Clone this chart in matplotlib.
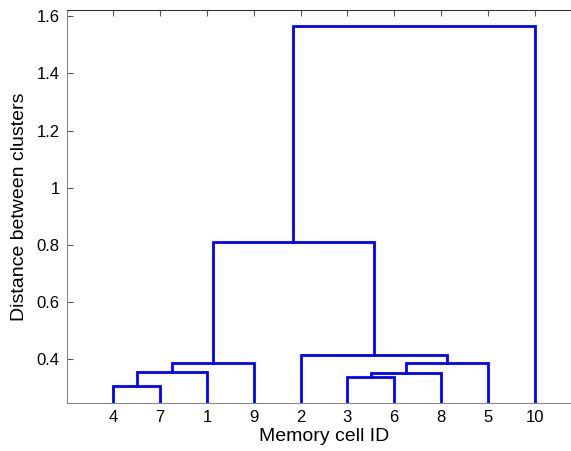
import matplotlib
matplotlib.use("Agg")
import matplotlib.pyplot as plt

plt.rcParams['font.family'] = ['Liberation Sans', 'DejaVu Sans']

# Leaf order along the x axis (memory cell IDs)
leaf_order = [4, 7, 1, 9, 2, 3, 6, 8, 5, 10]
# Merges: (left cluster, right cluster, distance); clusters named by leaf ID or merge index "m#"
merge_left = [4, "m0", "m1", 3, "m3", "m4", 2, "m2", "m7"]
merge_right = [7, 1, 9, 6, 8, 5, "m5", "m6", 10]
merge_height = [0.308, 0.356, 0.387, 0.338, 0.352, 0.388, 0.416, 0.809, 1.565]

y_ticks = [0.4, 0.6, 0.8, 1.0, 1.2, 1.4, 1.6]
y_tick_labels = ["0.4", "0.6", "0.8", "1", "1.2", "1.4", "1.6"]

fig = plt.figure(figsize=(5.71, 4.51), dpi=100)
W, H = 571, 451
left_px, right_px, top_px, bottom_px = 66.5, 581.5, 10, 403
ax = fig.add_axes([left_px / W, 1 - bottom_px / H, (right_px - left_px) / W, (bottom_px - top_px) / H])

pos = {leaf: i + 1 for i, leaf in enumerate(leaf_order)}
hgt = {leaf: 0.0 for leaf in leaf_order}
color = (0, 0, 1)
for i, (a, b, h) in enumerate(zip(merge_left, merge_right, merge_height)):
    xa, xb = pos[a], pos[b]
    ya, yb = hgt[a], hgt[b]
    ax.plot([xa, xa, xb, xb], [ya, h, h, yb], color=color, lw=2, solid_joinstyle='miter', clip_on=True)
    key = "m%d" % i
    pos[key] = (xa + xb) / 2
    hgt[key] = h

ax.set_xlim(0, len(leaf_order) + 1)
ax.set_ylim(0.247, 1.622)
ax.set_xticks(range(1, len(leaf_order) + 1))
ax.set_xticklabels([str(l) for l in leaf_order])
ax.set_yticks(y_ticks)
ax.set_yticklabels(y_tick_labels)
ax.tick_params(direction='in', top=True, right=True, labelsize=12, length=4, color='#555555', pad=5)
for s in ax.spines.values():
    s.set_color('#888888')
    s.set_linewidth(0.8)
ax.spines['top'].set_color('#333333')
ax.set_xlabel("Memory cell ID", fontsize=14, labelpad=2)
ax.set_ylabel("Distance between clusters", fontsize=14, labelpad=6)

fig.savefig("out.png", dpi=100)
